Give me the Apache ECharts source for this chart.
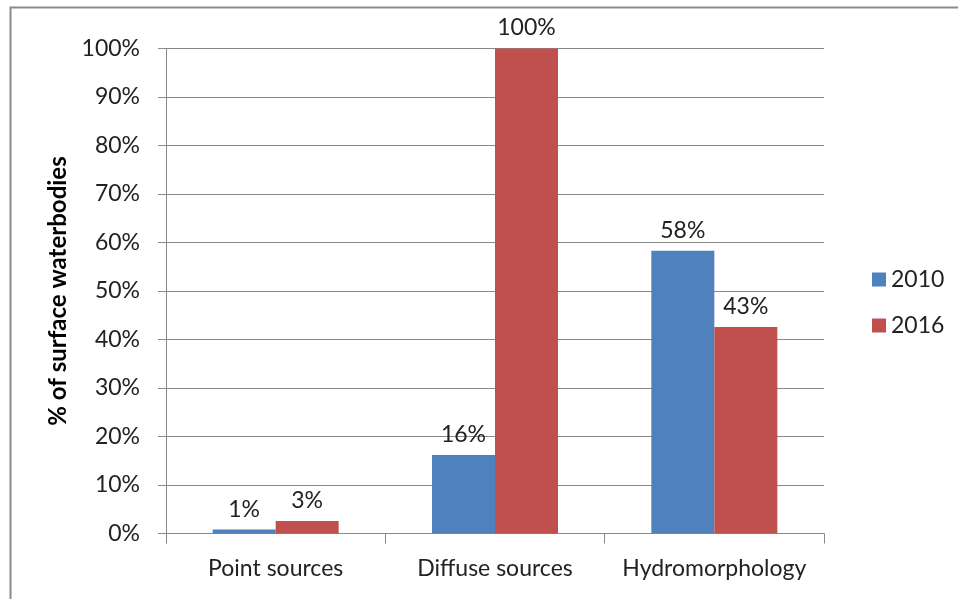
<!DOCTYPE html>
<html><head><meta charset="utf-8">
<script src="https://cdn.jsdelivr.net/npm/echarts@6/dist/echarts.min.js"></script>
<style>html,body{margin:0;padding:0;background:#fff}#c{width:958px;height:599px}</style>
</head><body><div id="c"></div>
<script>
const categories = ['Point sources', 'Diffuse sources', 'Hydromorphology'];
const seriesNames = ['2010', '2016'];
const values2010 = [0.8, 16.2, 58.3];
const values2016 = [2.6, 100, 42.6];
const yTicks = [0, 10, 20, 30, 40, 50, 60, 70, 80, 90, 100];
const colors = ['#4F81BD', '#C0504D'];
const FONT = 'Lato';

const chart = echarts.init(document.getElementById('c'), null, {renderer: 'canvas'});
const labelCfg = {
  show: true, position: 'top', distance: 9,
  fontFamily: FONT, fontSize: 23, color: '#222',
  formatter: p => Math.round(p.value) + '%'
};
chart.setOption({
  animation: false,
  textStyle: {fontFamily: FONT},
  graphic: [{
    type: 'rect', left: 8, top: 5,
    shape: {width: 1000, height: 700},
    style: {fill: 'none', stroke: '#8a8a8a', lineWidth: 2}
  }],
  grid: {left: 166, right: 134, top: 48.5, bottom: 65.5},
  legend: {
    orient: 'vertical', left: 867, top: 263,
    itemWidth: 14, itemHeight: 14, itemGap: 23,
    icon: 'rect',
    textStyle: {fontFamily: FONT, fontSize: 23, color: '#222'},
    data: seriesNames
  },
  xAxis: {
    type: 'category', data: categories,
    axisLine: {lineStyle: {color: '#888', width: 1}},
    axisTick: {show: true, length: 10, lineStyle: {color: '#888'}},
    axisLabel: {fontFamily: FONT, fontSize: 23, color: '#222', margin: 24, interval: 0}
  },
  yAxis: {
    type: 'value', min: yTicks[0], max: yTicks[yTicks.length - 1], interval: 10,
    name: '% of surface waterbodies', nameLocation: 'middle', nameGap: 89,
    nameTextStyle: {fontFamily: FONT, fontSize: 24, fontWeight: 'bold', color: '#000'},
    axisLine: {show: true, lineStyle: {color: '#888'}},
    axisTick: {show: true, length: 8, lineStyle: {color: '#888'}},
    splitLine: {lineStyle: {color: '#888', width: 1}},
    axisLabel: {fontFamily: FONT, fontSize: 23, color: '#222', margin: 26,
      formatter: v => v + '%'}
  },
  series: [
    {name: seriesNames[0], type: 'bar', data: values2010, barWidth: 63, barGap: '0%',
     itemStyle: {color: colors[0]}, label: labelCfg},
    {name: seriesNames[1], type: 'bar', data: values2016, barWidth: 63, barGap: '0%',
     itemStyle: {color: colors[1]}, label: labelCfg}
  ]
});
</script></body></html>
